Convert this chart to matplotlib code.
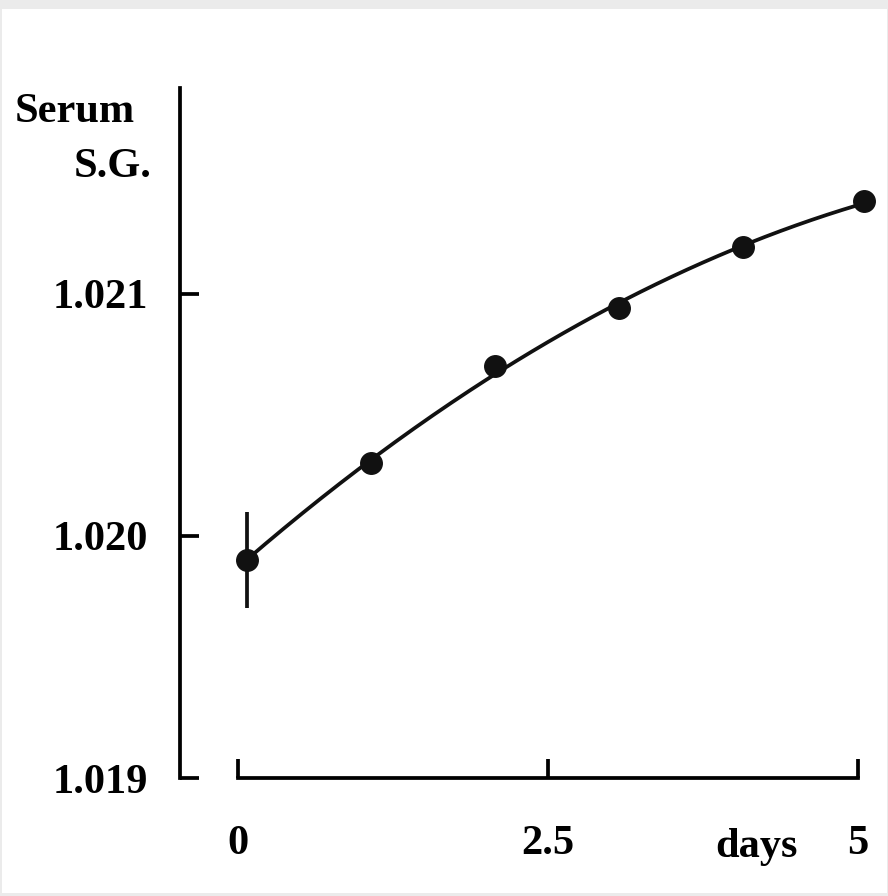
import numpy as np
import matplotlib.pyplot as plt
from matplotlib.patches import Rectangle

# serum specific gravity over the days of the study
days = [0.07, 1.07, 2.07, 3.07, 4.07, 5.05]
sg = [1.0199, 1.0203, 1.0207, 1.02094, 1.02119, 1.02138]
sg_err = [0.0002, 0, 0, 0, 0, 0]

xticks = [0, 2.5, 5]
xlabels = ["0", "2.5", "5"]
yticks = [1.019, 1.020, 1.021]
ylabels = ["1.019", "1.020", "1.021"]

font = {"family": "Liberation Serif", "weight": "bold", "size": 30.5}
lw = 2.7

W, H = 888, 896
fig = plt.figure(figsize=(W / 100, H / 100), dpi=100, facecolor="#ebebeb")
# white page inside a thin grey scan border
fig.patches.append(Rectangle((2 / W, 3 / H), (W - 3) / W, (H - 12) / H,
                             transform=fig.transFigure, facecolor="white",
                             edgecolor="none", zorder=-5))

ax = fig.add_axes([180 / W, (H - 778) / H, (880 - 180) / W, (778 - 88) / H])
ax.set_facecolor("none")

# smooth trend through the daily means
coef = np.polyfit(days, sg, 2)
xs = np.linspace(days[0], days[-1], 200)
ax.plot(xs, np.polyval(coef, xs), color="#111111", lw=lw, solid_capstyle="round")
ax.errorbar(days[:1], sg[:1], yerr=sg_err[:1], fmt="none", ecolor="#111111", elinewidth=lw)
ax.plot(days, sg, "o", color="#111111", ms=15.5, clip_on=False, zorder=3)

ax.set_xlim(-0.4677, 5.177)
ax.set_ylim(1.019, 1.019 + 690 / 242.25 * 0.001)

for s in ["top", "right"]:
    ax.spines[s].set_visible(False)
ax.spines["left"].set_linewidth(lw)
ax.spines["bottom"].set_linewidth(lw)
ax.spines["bottom"].set_bounds(0, 5)

ax.set_xticks(xticks)
ax.set_xticklabels(xlabels, fontdict=font)
ax.set_yticks(yticks)
ax.set_yticklabels(ylabels, fontdict=font)
ax.tick_params(axis="y", direction="in", length=14, width=lw, pad=23)
ax.tick_params(axis="x", direction="in", length=14, width=lw, pad=34)

fig.text(756 / W, 1 - 857 / H, "days", ha="center", va="baseline", **font)
fig.text(15 / W, 1 - 122 / H, "Serum", ha="left", va="baseline", **font)
fig.text(152 / W, 1 - 177 / H, "S.G.", ha="right", va="baseline", **font)

fig.savefig("out.png", dpi=100, facecolor=fig.get_facecolor())
